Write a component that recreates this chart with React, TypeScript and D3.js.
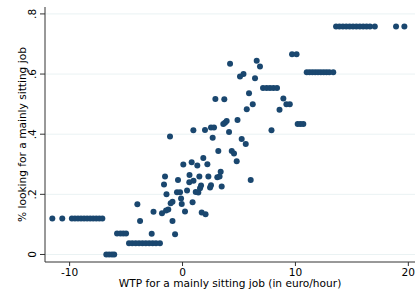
import React from "react";
import * as d3 from "d3";

// WTP (euro/hour) and share looking for a mainly sitting job
const wtp: number[] = [
  -11.53, -10.65, -9.8, -9.53, -9.26, -8.99, -8.72, -8.45, -8.18, -7.91, -7.64, -7.37, -7.1,
  -6.75, -6.5, -6.25, -6.05,
  -5.8, -5.5, -5.25, -5.0,
  -4.74, -4.45, -4.15, -3.85, -3.55, -3.25, -2.95, -2.65, -2.35, -2.0,
  -4.0, -3.76, -2.73, -2.57, -1.82, -1.46, -1.26, -0.89, -0.66, -1.64, -1.55, -1.42, -1.11,
  -0.4, 0.07, 0.62, 0.81, 1.31, 0.6, 0.97, -0.49, -0.22, 0.4, -0.13, -0.89, -1.05, -0.07,
  0.22, 0.89, 1.17, 1.4, 1.55, 1.64, 1.7, 2.04, 1.49, 2.29, 1.84, 2.2, 2.52, 2.44, 3.47,
  3.38, 3.08, 3.28, 3.17, 4.36, 4.56, 4.8, 5.24, 5.6, 6.04, 2.67, 0.96, 1.99, 2.52, 2.79,
  4.12, 3.76, 3.91, 3.61, 4.87, 2.91, 3.7, 4.21, 6.57, 6.86, 5.09, 5.4, 6.42,
  7.13, 7.45, 7.75, 8.05, 8.37,
  5.89, 8.93, 9.2, 9.5, 6.22, 5.69, 8.59, 7.88,
  10.2, 10.45, 10.7,
  9.7, 10.1,
  11.0, 11.25, 11.5, 11.75, 12.0, 12.25, 12.5, 12.75, 13.0, 13.35,
  13.6, 13.9, 14.2, 14.5, 14.8, 15.1, 15.4, 15.7, 16.0, 16.3, 16.6, 17.03,
  18.91, 19.65,
];

const shareSitting: number[] = [
  0.12, 0.12, 0.12, 0.12, 0.12, 0.12, 0.12, 0.12, 0.12, 0.12, 0.12, 0.12, 0.12,
  0, 0, 0, 0,
  0.07, 0.07, 0.07, 0.07,
  0.037, 0.037, 0.037, 0.037, 0.037, 0.037, 0.037, 0.037, 0.037, 0.037,
  0.167, 0.111, 0.069, 0.142, 0.137, 0.146, 0.15, 0.111, 0.067, 0.233, 0.259, 0.2, 0.392,
  0.248, 0.299, 0.264, 0.307, 0.296, 0.24, 0.245, 0.207, 0.207, 0.213, 0.186, 0.175, 0.17, 0.168,
  0.143, 0.174, 0.208, 0.206, 0.22, 0.229, 0.14, 0.134, 0.259, 0.259, 0.321, 0.3, 0.23, 0.223, 0.226,
  0.275, 0.257, 0.259, 0.344, 0.344, 0.336, 0.31, 0.384, 0.367, 0.248, 0.388, 0.413, 0.414, 0.422, 0.422,
  0.407, 0.438, 0.444, 0.434, 0.447, 0.517, 0.516, 0.634, 0.644, 0.625, 0.592, 0.6, 0.586,
  0.554, 0.554, 0.554, 0.554, 0.554,
  0.536, 0.519, 0.5, 0.5, 0.5, 0.483, 0.481, 0.413,
  0.434, 0.434, 0.434,
  0.666, 0.666,
  0.606, 0.606, 0.606, 0.606, 0.606, 0.606, 0.606, 0.606, 0.606, 0.606,
  0.758, 0.758, 0.758, 0.758, 0.758, 0.758, 0.758, 0.758, 0.758, 0.758, 0.758, 0.758,
  0.758, 0.758,
];

const xTicks: number[] = [-10, 0, 10, 20];
const yTicks: number[] = [0, 0.2, 0.4, 0.6, 0.8];
const yTickLabels: string[] = ["0", ".2", ".4", ".6", ".8"];
const xTitle = "WTP for a mainly sitting job (in euro/hour)";
const yTitle = "% looking for a mainly sitting job";

const W = 420;
const H = 291;
const left = 45;
const right = 415;
const top = 7;
const bottom = 262;
const FONT = "'DejaVu Sans', sans-serif";
const FS = 10.6;

export default function App() {
  const x = d3.scaleLinear().domain([-12.18, 20.59]).range([left, right]);
  const y = d3.scaleLinear().domain([-0.025, 0.823]).range([bottom, top]);
  const points = wtp.map((v, i) => ({ x: v, y: shareSitting[i] }));
  const navy = "#1a476f";
  const midY = (top + bottom) / 2;
  return (
    <svg
      width={W}
      height={H}
      style={{ position: "absolute", left: 0, top: 0, background: "#fff" }}
      fontFamily={FONT}
    >
      <rect x={0} y={0} width={W} height={H} fill="#fff" />
      {yTicks.map((t) => (
        <line key={"g" + t} x1={left} x2={right} y1={y(t)} y2={y(t)} stroke="#eaf2f3" strokeWidth={1} />
      ))}
      <line x1={left} x2={left} y1={top} y2={bottom} stroke="#333" strokeWidth={1} />
      <line x1={left} x2={right} y1={bottom} y2={bottom} stroke="#333" strokeWidth={1} />
      {yTicks.map((t, i) => (
        <g key={"yt" + t}>
          <line x1={left - 5} x2={left} y1={y(t)} y2={y(t)} stroke="#333" strokeWidth={1} />
          <text
            transform={`translate(36,${y(t)}) rotate(-90)`}
            textAnchor="middle"
            fontSize={FS}
            fill="#000"
          >
            {yTickLabels[i]}
          </text>
        </g>
      ))}
      {xTicks.map((t) => (
        <g key={"xt" + t}>
          <line x1={x(t)} x2={x(t)} y1={bottom} y2={bottom + 4} stroke="#333" strokeWidth={1} />
          <text x={x(t)} y={276} textAnchor="middle" fontSize={FS} fill="#000">
            {String(t).replace("-", "-")}
          </text>
        </g>
      ))}
      <text x={(left + right) / 2} y={287} textAnchor="middle" fontSize={FS} fill="#000">
        {xTitle}
      </text>
      <text
        transform={`translate(26,${midY}) rotate(-90)`}
        textAnchor="middle"
        fontSize={FS}
        fill="#000"
      >
        {yTitle}
      </text>
      {points.map((p, i) => (
        <circle key={i} cx={x(p.x)} cy={y(p.y)} r={3} fill={navy} />
      ))}
    </svg>
  );
}
